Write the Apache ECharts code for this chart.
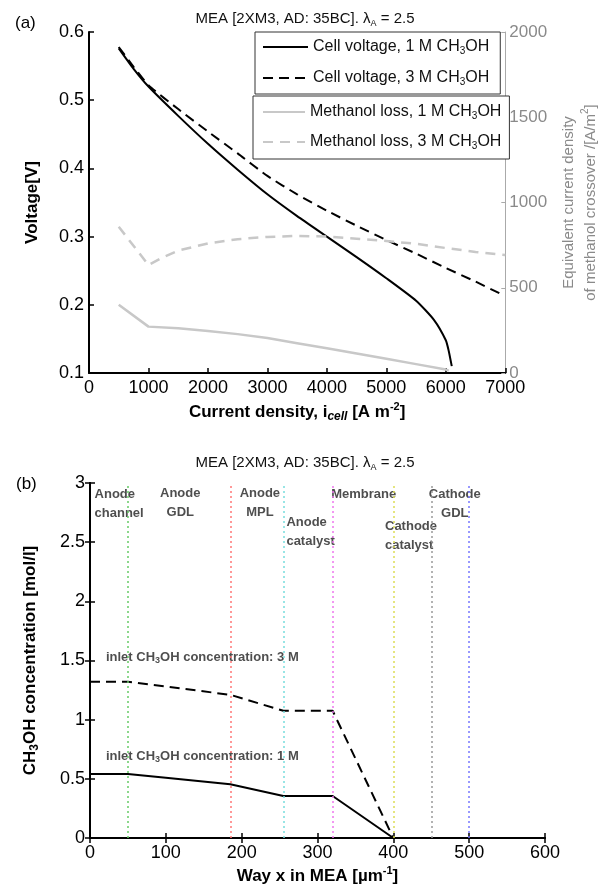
<!DOCTYPE html>
<html>
<head>
<meta charset="utf-8">
<script src="https://cdn.jsdelivr.net/npm/echarts@6/dist/echarts.min.js"></script>
<style>
  html, body { margin: 0; padding: 0; background: #fff; }
  #chart { width: 610px; height: 892px; }
</style>
</head>
<body>
<div id="chart"></div>
<script>
// (a) cell voltage and methanol loss vs current density
let cur1M = [500, 750, 1000, 1500, 2000, 2500, 3000, 3500, 4000, 4500, 5000, 5500, 5800, 6000, 6050, 6100];
let volt1M = [0.576, 0.546, 0.520, 0.477, 0.436, 0.398, 0.362, 0.330, 0.300, 0.270, 0.239, 0.206, 0.178, 0.148, 0.132, 0.110];
let cur3M = [500, 750, 1000, 1500, 2000, 2500, 3000, 3500, 4000, 4500, 5000, 5500, 6000, 6500, 6900];
let volt3M = [0.578, 0.549, 0.522, 0.487, 0.454, 0.422, 0.389, 0.362, 0.338, 0.316, 0.295, 0.275, 0.254, 0.234, 0.217];
let lossCur1M = [500, 1000, 1500, 2000, 2500, 3000, 3500, 4000, 4500, 5000, 5500, 6000, 6050];
let loss1M = [400, 272, 262, 247, 228, 205, 175, 145, 114, 83, 52, 20, 14];
let lossCur3M = [500, 1000, 1250, 1500, 2000, 2500, 3000, 3500, 4000, 4500, 5000, 5500, 6000, 6500, 7000];
let loss3M = [858, 633, 680, 718, 760, 785, 798, 804, 800, 788, 774, 758, 733, 710, 692];

// (b) methanol concentration through the MEA
let wayX = [0, 50, 100, 185, 255, 320, 400];
let conc3M = [1.32, 1.32, 1.28, 1.21, 1.075, 1.075, 0];
let conc1M = [0.54, 0.54, 0.51, 0.455, 0.355, 0.355, 0];
let layerEdges = [50, 185, 255, 320, 400, 450, 500];
let layerColors = ["#66cc66", "#ff7777", "#77dddd", "#ee77ee", "#dddd55", "#999999", "#7777ff"];
let layerNames = ["Anode\nchannel", "Anode\nGDL", "Anode\nMPL", "Anode\ncatalyst", "Membrane", "Cathode\ncatalyst", "Cathode\nGDL"];
let layerLabelX = [6, 119, 224, 259, 361, 389, 481];
let layerLabelY = [2.82, 2.835, 2.83, 2.586, 2.90, 2.556, 2.82];
let layerAlign = ["left", "center", "center", "left", "center", "left", "center"];
let inletNames = ["inlet CH{s|3}OH concentration: 3 M", "inlet CH{s|3}OH concentration: 1 M"];
let inletX = [21, 21];
let inletY = [1.53, 0.69];

const FONT = "Liberation Sans";
let pairs = (xs, ys) => xs.map((x, i) => [x, ys[i]]);

let sub = (size, c) => ({ fontFamily: FONT, fontSize: size, lineHeight: 8, verticalAlign: "bottom", color: c });
let sup = (size, c) => ({ fontFamily: FONT, fontSize: size, lineHeight: 8, verticalAlign: "top", color: c });

let chart = echarts.init(document.getElementById("chart"));

let titleText = "MEA [2XM3, AD: 35BC]. λ{s|A} = 2.5";
let titleStyle = {
  fontFamily: FONT, fontSize: 15, fontWeight: "normal", color: "#111", lineHeight: 18,
  rich: { s: sub(9, "#111") }
};

let legendText = {
  fontFamily: FONT, fontSize: 16, color: "#111", lineHeight: 18,
  rich: { s: sub(10, "#111") }
};

let blackTick = { inside: true, length: 5, lineStyle: { color: "#000", width: 1.5 } };
let blackLine = { lineStyle: { color: "#000", width: 2 } };
let tickLabel = { fontFamily: FONT, fontSize: 18, color: "#000" };
let plain = (v) => String(v);

let option = {
  animation: false,
  backgroundColor: "#fff",
  title: [
    { text: titleText, left: "center", top: 10, padding: 0, textStyle: titleStyle },
    { text: titleText, left: "center", top: 454, padding: 0, textStyle: titleStyle }
  ],
  graphic: [
    { type: "text", left: 15, top: 15, style: { text: "(a)", font: "17px Liberation Sans", fill: "#000" } },
    { type: "text", left: 16, top: 476, style: { text: "(b)", font: "17px Liberation Sans", fill: "#000" } }
  ],
  legend: [
    {
      data: ["Cell voltage, 1 M CH3OH", "Cell voltage, 3 M CH3OH"],
      orient: "vertical", left: 255, top: 32, padding: [6, 11, 7, 7],
      itemGap: 13, itemWidth: 45, itemHeight: 14,
      borderColor: "#333", borderWidth: 1, backgroundColor: "#fff",
      itemStyle: { opacity: 0 },
      formatter: (n) => n.replace("CH3OH", "CH{s|3}OH"),
      textStyle: legendText
    },
    {
      data: ["Methanol loss, 1 M CH3OH", "Methanol loss, 3 M CH3OH"],
      orient: "vertical", left: 253, top: 96, padding: [7, 8, 8, 9],
      itemGap: 12, itemWidth: 42, itemHeight: 14,
      borderColor: "#333", borderWidth: 1, backgroundColor: "#fff",
      itemStyle: { opacity: 0 },
      formatter: (n) => n.replace("CH3OH", "CH{s|3}OH"),
      textStyle: legendText
    }
  ],
  grid: [
    { left: 89, right: 99, top: 32, bottom: 519 },
    { left: 90, right: 65, top: 483, bottom: 54 }
  ],
  xAxis: [
    {
      gridIndex: 0, type: "value", min: 0, max: 7000, interval: 1000,
      axisLine: blackLine, axisTick: blackTick, splitLine: { show: false },
      axisLabel: Object.assign({ margin: 6, formatter: plain }, tickLabel),
      name: "{b|Current density, i}{c|cell}{b| [A m}{p|-2}{b|]}",
      nameLocation: "middle", nameGap: 28,
      nameTextStyle: {
        fontFamily: FONT, fontSize: 17, fontWeight: "bold", color: "#000", lineHeight: 22,
        rich: {
          b: { fontFamily: FONT, fontSize: 17, fontWeight: "bold", lineHeight: 22, color: "#000" },
          c: Object.assign(sub(12, "#000"), { fontWeight: "bold", fontStyle: "italic", lineHeight: 10 }),
          p: Object.assign(sup(11, "#000"), { fontWeight: "bold" })
        }
      }
    },
    {
      gridIndex: 1, type: "value", min: 0, max: 600, interval: 100,
      axisLine: blackLine, axisTick: blackTick, splitLine: { show: false },
      axisLabel: Object.assign({ margin: 6, formatter: plain }, tickLabel),
      name: "{b|Way x in MEA [µm}{p|-1}{b|]}",
      nameLocation: "middle", nameGap: 27,
      nameTextStyle: {
        fontFamily: FONT, fontSize: 17, fontWeight: "bold", color: "#000", lineHeight: 22,
        rich: {
          b: { fontFamily: FONT, fontSize: 17, fontWeight: "bold", lineHeight: 22, color: "#000" },
          p: Object.assign(sup(11, "#000"), { fontWeight: "bold" })
        }
      }
    },
    {
      gridIndex: 1, type: "value", min: 0, max: 600, interval: 100, position: "top",
      axisLine: blackLine, axisTick: blackTick, splitLine: { show: false },
      axisLabel: { show: false }
    }
  ],
  yAxis: [
    {
      gridIndex: 0, type: "value", min: 0.1, max: 0.6, interval: 0.1,
      axisLine: blackLine, axisTick: blackTick, splitLine: { show: false },
      axisLabel: Object.assign({ margin: 5, formatter: (v) => v.toFixed(1) }, tickLabel),
      name: "Voltage[V]", nameLocation: "middle", nameGap: 48,
      nameTextStyle: { fontFamily: FONT, fontSize: 17, fontWeight: "bold", color: "#000" }
    },
    {
      gridIndex: 0, type: "value", min: 0, max: 2000, interval: 500, position: "right",
      axisLine: { show: true, lineStyle: { color: "#aaa", width: 1 } },
      axisTick: { inside: true, length: 4, lineStyle: { color: "#aaa" } },
      splitLine: { show: false },
      axisLabel: { margin: 4, fontFamily: FONT, fontSize: 17, color: "#8a8a8a", formatter: plain },
      name: "{n|Equivalent current density}\n{n|of methanol crossover /[A/m}{p|2}{n|]}",
      nameLocation: "middle", nameGap: 46, nameRotate: 90,
      nameTextStyle: {
        fontFamily: FONT, fontSize: 15, color: "#8a8a8a", lineHeight: 22,
        rich: {
          n: { fontFamily: FONT, fontSize: 15, color: "#8a8a8a", lineHeight: 22 },
          p: sup(10, "#8a8a8a")
        }
      }
    },
    {
      gridIndex: 1, type: "value", min: 0, max: 3, interval: 0.5,
      axisLine: blackLine, axisTick: blackTick, splitLine: { show: false },
      axisLabel: Object.assign({ margin: 5, formatter: plain }, tickLabel),
      name: "{b|CH}{s|3}{b|OH concentration [mol/l]}", nameLocation: "middle", nameGap: 49,
      nameTextStyle: {
        fontFamily: FONT, fontSize: 17, fontWeight: "bold", color: "#000", lineHeight: 22,
        rich: {
          b: { fontFamily: FONT, fontSize: 17, fontWeight: "bold", lineHeight: 22, color: "#000" },
          s: Object.assign(sub(12, "#000"), { fontWeight: "bold" })
        }
      }
    },
    {
      gridIndex: 1, type: "value", min: 0, max: 3, interval: 0.5, position: "right",
      axisLine: blackLine, axisTick: blackTick, splitLine: { show: false },
      axisLabel: { show: false }
    }
  ],
  series: [
    {
      name: "Cell voltage, 1 M CH3OH", type: "line", xAxisIndex: 0, yAxisIndex: 0,
      symbol: "none", smooth: 0.2, data: pairs(cur1M, volt1M),
      lineStyle: { color: "#000", width: 2, type: "solid" }, itemStyle: { color: "#000" }
    },
    {
      name: "Cell voltage, 3 M CH3OH", type: "line", xAxisIndex: 0, yAxisIndex: 0,
      symbol: "none", smooth: 0.2, data: pairs(cur3M, volt3M),
      lineStyle: { color: "#000", width: 2, type: [10, 6] }, itemStyle: { color: "#000" }
    },
    {
      name: "Methanol loss, 1 M CH3OH", type: "line", xAxisIndex: 0, yAxisIndex: 1,
      symbol: "none", data: pairs(lossCur1M, loss1M),
      lineStyle: { color: "#c8c8c8", width: 2.5, type: "solid" }, itemStyle: { color: "#c8c8c8" }
    },
    {
      name: "Methanol loss, 3 M CH3OH", type: "line", xAxisIndex: 0, yAxisIndex: 1,
      symbol: "none", data: pairs(lossCur3M, loss3M),
      lineStyle: { color: "#c8c8c8", width: 2.5, type: [10, 7] }, itemStyle: { color: "#c8c8c8" }
    },
    {
      name: "inlet 3 M", type: "line", xAxisIndex: 1, yAxisIndex: 2,
      symbol: "none", data: pairs(wayX, conc3M),
      lineStyle: { color: "#000", width: 2, type: [10, 6] }
    },
    {
      name: "inlet 1 M", type: "line", xAxisIndex: 1, yAxisIndex: 2,
      symbol: "none", data: pairs(wayX, conc1M),
      lineStyle: { color: "#000", width: 2, type: "solid" },
      markLine: {
        silent: true, symbol: ["none", "none"], label: { show: false },
        lineStyle: { type: [2, 3], width: 1.5 },
        data: layerEdges.map((x, i) => ({ xAxis: x, lineStyle: { color: layerColors[i] } }))
      }
    },
    {
      name: "layers", type: "scatter", xAxisIndex: 1, yAxisIndex: 2,
      symbolSize: 1, itemStyle: { color: "rgba(0,0,0,0)" }, silent: true,
      data: layerNames.map((n, i) => ({
        name: n, value: [layerLabelX[i], layerLabelY[i]], label: { align: layerAlign[i] }
      })),
      label: {
        show: true, position: "inside", formatter: "{b}",
        fontFamily: FONT, fontSize: 13, fontWeight: "bold", color: "#222", lineHeight: 19
      }
    },
    {
      name: "inlets", type: "scatter", xAxisIndex: 1, yAxisIndex: 2,
      symbolSize: 1, itemStyle: { color: "rgba(0,0,0,0)" }, silent: true,
      data: inletNames.map((n, i) => ({ name: n, value: [inletX[i], inletY[i]] })),
      label: {
        show: true, position: "inside", align: "left", formatter: (p) => p.name,
        fontFamily: FONT, fontSize: 13, fontWeight: "bold", color: "#222", lineHeight: 16,
        rich: { s: Object.assign(sub(9, "#222"), { fontWeight: "bold" }) }
      }
    }
  ]
};

chart.setOption(option);
</script>
</body>
</html>
